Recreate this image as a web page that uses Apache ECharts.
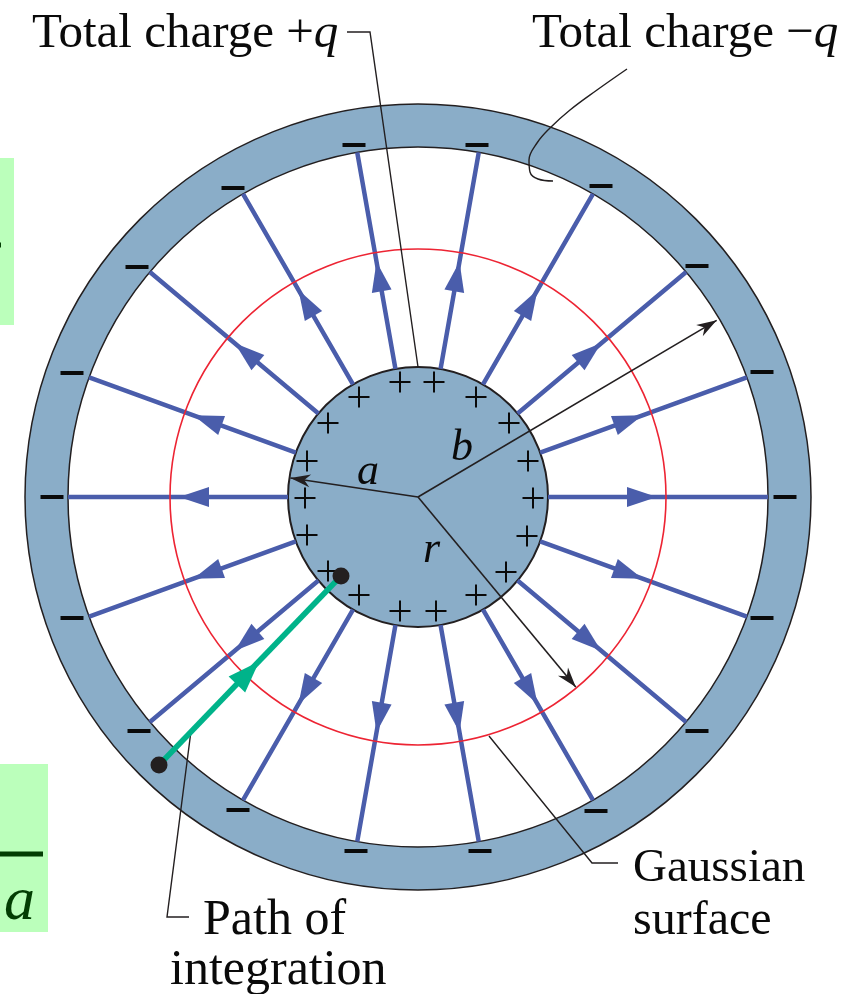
<!DOCTYPE html>
<html><head><meta charset="utf-8">
<style>html,body{margin:0;padding:0;background:#fff}#c{width:867px;height:994px}</style>
<script src="https://cdn.jsdelivr.net/npm/echarts@6/dist/echarts.min.js"></script>
</head><body><div id="c"></div>
<script>
// Field lines, in polar form
const fieldAngles = [0,20,40,60,80,100,120,140,160,180,200,220,240,260,280,300,320,340];
const fieldRadii = [130,350];
const arrowRadius = 224;
// Radius arrows: [tip radius, angle]
const radiusArrows = [[129,171.5],[347,30.6],[247,309.7]];
// Charges
const plusCharges = [[400,382],[434,382],[476,397],[509,423],[528,461],[533,498],[527,536],[506,572],[476,595],[436,611],[400,611],[359,595],[328,571],[307,535],[305,498],[307,461],[328,423],[359,397]];
const minusCharges = [[137,267],[233,188],[354,145],[477,145],[601,186],[697,266],[762,372],[785,497],[762,618],[697,731],[596,811],[480,851],[356,851],[238,810],[139,731],[72,618],[52,497],[72,373]];
// Leader lines
const leaderPlus = [[347,32],[370,32],[418,367]];
const leaderMinus = [[627,69],[597,90],[570,110],[550,128],[537,143],[529,160],[530,172],[538,179],[553,181]];
const leaderGauss = [[489,736],[592,863],[618,863]];
const leaderPath = [[191,731],[167,917],[189,917]];
// Integration path
const pathEnds = [[159,765],[341,576]];
const pathArrow = [[248,673]];
// Green boxes and rules clipped at the page edge
const greenBoxes = [[0,158,14,325],[0,764,48,932]];
const darkRules = [[[0,245],[1,245]],[[0,854],[43,854]]];
// Labels: [x, y, text]
const textLabels = [
 [32,34,'{t|Total charge +}{q|q}'],
 [532,34,'{t|Total charge \u2212}{q|q}'],
 [203,921,'{w|Path of}'],
 [170,971,'{w|integration}'],
 [633,869,'{g|Gaussian}'],
 [633,921,'{n|surface}']
];
const symbolLabels = [[357,472,'a'],[451,448,'b'],[423,550,'r']];
const greenLetter = [[4,903,'a']];

const BLUE='#4a5dab',RING='#8aadc8',EDGE='#231f20',GREEN='#00b38a',RED='#ed2433',SERIF='"Liberation Serif"';
const cx=418,cy=497;
const stealth='path://M6.5 0L13 20L6.5 14L0 20Z';
const plusPath='path://M9.5 0h2v9.5h9.5v2h-9.5v9.5h-2v-9.5h-9.5v-2h9.5z';
const fieldData=[];
fieldAngles.forEach(a=>{fieldRadii.forEach(r=>fieldData.push([r,a]));fieldData.push(['-','-']);});
const solid=c=>({color:c,opacity:1});
const disk=(name,radius,color,bc,bw,z)=>({type:'pie',name,silent:true,center:[cx,cy],radius,z,
  label:{show:false},labelLine:{show:false},emphasis:{disabled:true},
  itemStyle:{color,borderColor:bc,borderWidth:bw},data:[{value:1}]});
const polarLine=(data,color,width,z)=>({type:'line',coordinateSystem:'polar',data,showSymbol:false,symbol:'none',silent:true,z,clip:false,lineStyle:{color,width,cap:'butt',opacity:1},connectNulls:false});
const cartLine=(data,color,width,z,smooth)=>({type:'line',data,symbol:'none',silent:true,z,clip:false,smooth:smooth||false,lineStyle:{color,width,cap:'butt',join:'miter',opacity:1}});
const labelSeries=(data,style,z)=>({type:'scatter',data:data.map(d=>({value:[d[0],d[1]],name:d[2]})),symbolSize:0,silent:true,z,clip:false,itemStyle:{opacity:1},
  label:Object.assign({show:true,position:'right',distance:0,opacity:1,formatter:p=>p.name},style)});
const rich=(size,style)=>({fontFamily:SERIF,fontSize:size,fontStyle:style||'normal',color:'#0a0a0a'});

const option={
 animation:false,
 backgroundColor:'#fff',
 grid:{left:0,top:0,right:0,bottom:0,containLabel:false},
 xAxis:{type:'value',min:0,max:867,show:false},
 yAxis:{type:'value',min:0,max:994,inverse:true,show:false},
 polar:{center:[cx,cy],radius:400},
 radiusAxis:{type:'value',min:0,max:400,show:false},
 angleAxis:{type:'value',min:0,max:360,startAngle:0,clockwise:false,show:false},
 series:[
  {type:'custom',silent:true,z:1,clip:false,data:greenBoxes,encode:{x:[0,2],y:[1,3]},
   renderItem:(p,api)=>{const a=api.coord([api.value(0),api.value(1)]),b=api.coord([api.value(2),api.value(3)]);
    return {type:'rect',shape:{x:a[0],y:a[1],width:b[0]-a[0],height:b[1]-a[1]},style:{fill:'#bbffbb'}};}},
  ...darkRules.map(d=>cartLine(d,'#033d03',5,2)),
  labelSeries(greenLetter,{fontFamily:SERIF,fontStyle:'italic',fontSize:62,color:'#033d03'},3),
  disk('shell',[350,393],RING,EDGE,1.5,2),
  disk('sphere',[0,130],RING,EDGE,2,2),
  polarLine(fieldData,BLUE,4.5,4),
  disk('gaussian',[0,248],'rgba(0,0,0,0)',RED,1.6,5),
  {type:'scatter',coordinateSystem:'polar',silent:true,z:6,clip:false,symbol:'triangle',symbolSize:[20,30],itemStyle:solid(BLUE),
   data:fieldAngles.map(a=>({value:[arrowRadius,a],symbolRotate:a-90}))},
  ...radiusArrows.map(r=>polarLine([[0,0],r],EDGE,1.6,7)),
  {type:'scatter',coordinateSystem:'polar',silent:true,z:8,clip:false,symbol:stealth,symbolSize:[13,20],itemStyle:solid(EDGE),
   data:radiusArrows.map(r=>({value:[r[0]-10,r[1]],symbolRotate:r[1]-90}))},
  cartLine(leaderPlus,EDGE,1.4,7),
  cartLine(leaderMinus,EDGE,1.4,7,0.4),
  cartLine(leaderGauss,EDGE,1.4,7),
  cartLine(leaderPath,EDGE,1.4,7),
  {type:'scatter',silent:true,z:9,clip:false,symbol:plusPath,symbolSize:21,itemStyle:solid('#0a0a0a'),data:plusCharges},
  {type:'scatter',silent:true,z:9,clip:false,symbol:'rect',symbolSize:[23,4],itemStyle:solid('#0a0a0a'),data:minusCharges},
  cartLine(pathEnds,GREEN,5.5,10),
  {type:'scatter',silent:true,z:10,clip:false,symbol:'triangle',symbolSize:[23,32],symbolRotate:-44,itemStyle:solid(GREEN),data:pathArrow},
  {type:'scatter',silent:true,z:11,clip:false,symbol:'circle',symbolSize:17,itemStyle:solid(EDGE),data:pathEnds},
  labelSeries(textLabels,{color:'#0a0a0a',rich:{
    t:rich(49),q:rich(49,'italic'),w:rich(50),g:rich(47),n:rich(48)}},12),
  labelSeries(symbolLabels,{fontFamily:SERIF,fontStyle:'italic',fontSize:44,color:'#0a0a0a'},12)
 ]
};
const chart=echarts.init(document.getElementById('c'),null,{renderer:'canvas'});
chart.setOption(option);
</script></body></html>
